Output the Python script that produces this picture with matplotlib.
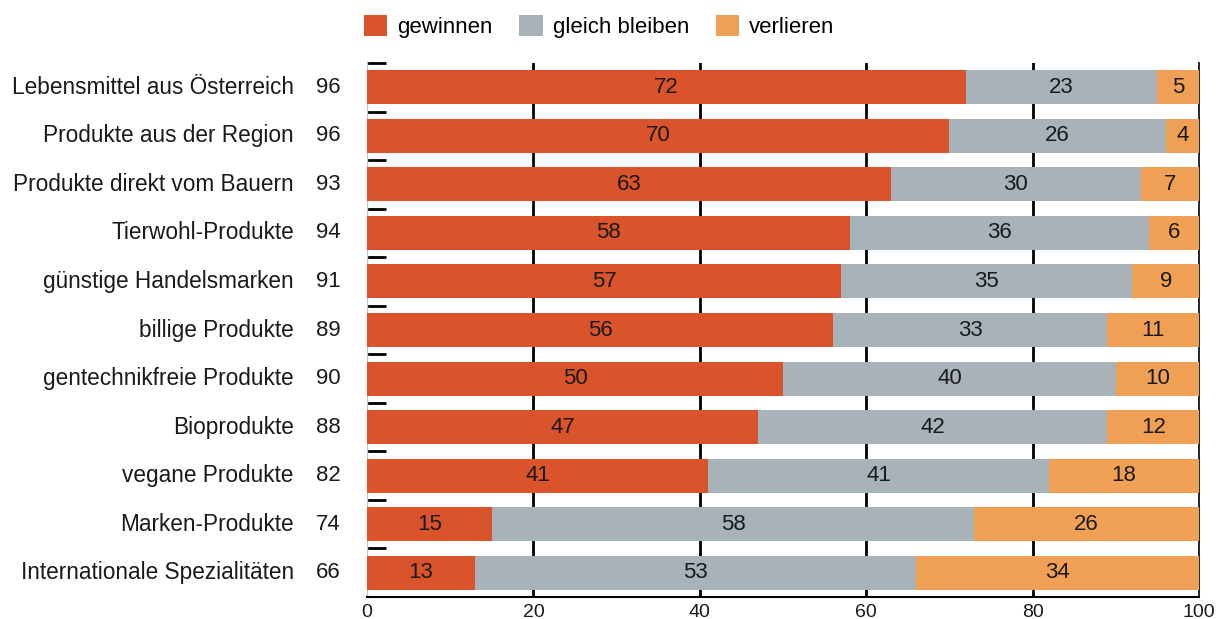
import numpy as np
import matplotlib
matplotlib.use("Agg")
import matplotlib.pyplot as plt
from matplotlib.patches import Patch

plt.rcParams['font.family'] = ['Liberation Sans', 'DejaVu Sans']

categories = ["Lebensmittel aus Österreich", "Produkte aus der Region",
              "Produkte direkt vom Bauern", "Tierwohl-Produkte",
              "günstige Handelsmarken", "billige Produkte",
              "gentechnikfreie Produkte", "Bioprodukte", "vegane Produkte",
              "Marken-Produkte", "Internationale Spezialitäten"]
gewinnen = [72, 70, 63, 58, 57, 56, 50, 47, 41, 15, 13]
gleich = [23, 26, 30, 36, 35, 33, 40, 42, 41, 58, 53]
verlieren = [5, 4, 7, 6, 9, 11, 10, 12, 18, 26, 34]
totals = [96, 96, 93, 94, 91, 89, 90, 88, 82, 74, 66]
series_names = ["gewinnen", "gleich bleiben", "verlieren"]
colors = ["#D9532B", "#A7B2B9", "#F0A055"]

FS = 16

fig = plt.figure(figsize=(12.18, 6.19), dpi=100)
ax = fig.add_axes([0.3013, 0.0355, 0.6831, 0.8627])

y = np.arange(len(categories))
left = np.zeros(len(categories))
all_vals = [gewinnen, gleich, verlieren]
for i, (vals, col) in enumerate(zip(all_vals, colors)):
    vals = np.array(vals, dtype=float)
    # last segment fills the row to 100 (rounded values)
    widths = 100 - left if i == len(all_vals) - 1 else vals
    ax.barh(y, widths, left=left, height=0.7, color=col, zorder=3)
    for yi, l, w, v in zip(y, left, widths, vals):
        ax.text(l + w / 2, yi, str(int(v)), ha="center", va="center",
                fontsize=FS, color="#1a1a1a", zorder=4)
    left = left + widths

ax.set_xlim(0, 100)
ax.set_ylim(10.5, -0.5)

# grid lines
for gx in [20, 40, 60, 80]:
    ax.axvline(gx, color="black", lw=2, zorder=1)

# labels and totals
trans = ax.get_yaxis_transform()
for yi, cat, tot in zip(y, categories, totals):
    ax.text(-0.088, yi, cat, transform=trans, ha="right", va="center",
            fontsize=16.3, color="#1a1a1a")
    ax.text(-0.047, yi, str(tot), transform=trans, ha="center", va="center",
            fontsize=FS, color="#1a1a1a")

ax.set_yticks([])
ax.set_yticks(np.arange(-0.5, 10.5, 1.0), minor=True)
ax.tick_params(axis="y", which="minor", direction="in", length=14,
               width=2, color="black", labelleft=False)
ax.set_xticks([0, 20, 40, 60, 80, 100])
ax.tick_params(axis="x", length=0, pad=5, labelsize=14, labelcolor="#1a1a1a")

ax.spines["top"].set_visible(False)
ax.spines["left"].set_color("#c8c8c8")
ax.spines["left"].set_linewidth(1)
ax.spines["right"].set_color("black")
ax.spines["right"].set_linewidth(1.2)
ax.spines["bottom"].set_color("black")
ax.spines["bottom"].set_linewidth(1.5)

handles = [Patch(facecolor=c, edgecolor="none") for c in colors]
fig.legend(handles, series_names, loc="center left",
           bbox_to_anchor=(0.2989, 0.957), ncol=3, frameon=False,
           fontsize=FS, handlelength=1.05, handleheight=1.05,
           handletextpad=0.45, columnspacing=1.2,
           borderpad=0, borderaxespad=0)

fig.savefig("out.png", dpi=100)
